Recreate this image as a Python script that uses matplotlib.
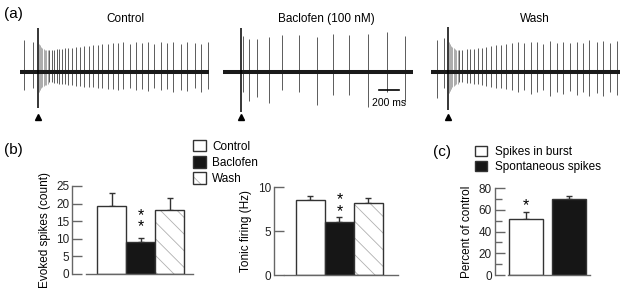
import numpy as np
import matplotlib
matplotlib.use('Agg')
import matplotlib.pyplot as plt
from matplotlib.legend_handler import HandlerTuple

plt.rcParams['font.family'] = ['Liberation Sans', 'DejaVu Sans']
plt.rcParams['hatch.linewidth'] = 0.6

# ---- (a) traces: spike times (ms) and amplitudes (px above / below baseline)
ctrl_spike_t = [43, 133, 293, 317, 340, 367, 393, 417, 450, 483, 523, 560, 603, 643, 690,
                733, 777, 823, 883, 933, 983, 1033, 1100, 1157, 1217, 1283, 1343, 1407,
                1467, 1533, 1607, 1673, 1750, 1807, 1877]
ctrl_spike_up = [32, 30, 22, 22, 22, 23, 23, 23, 24, 24, 24, 25, 25, 26, 26, 27, 27, 28, 28,
                 29, 29, 30, 28, 30, 29, 30, 28, 30, 29, 30, 28, 30, 29, 28, 30]
ctrl_spike_down = [18, 16, 10, 10, 11, 11, 12, 12, 12, 13, 13, 14, 14, 15, 15, 15, 16, 16, 17,
                   17, 18, 17, 16, 18, 17, 19, 16, 18, 17, 20, 18, 19, 16, 20, 17]
ctrl_burst_t = [185, 197, 210, 222, 235, 248, 262, 276]
ctrl_burst_up = [28, 27, 25, 24, 23, 22, 22, 22]
ctrl_burst_down = [20, 18, 16, 15, 14, 13, 13, 12]
ctrl_stim = (177, 44, 36)

bac_spike_t = [203, 263, 337, 457, 593, 757, 937, 1097, 1263, 1447, 1643, 1820]
bac_spike_up = [36, 33, 33, 35, 37, 37, 35, 38, 37, 38, 40, 36]
bac_spike_down = [20, 29, 25, 31, 18, 20, 33, 23, 23, 35, 20, 30]
bac_burst_t, bac_burst_up, bac_burst_down = [], [], []
bac_stim = (177, 44, 40)

wash_spike_t = [63, 130, 280, 310, 360, 390, 430, 470, 510, 550, 600, 650, 700, 750, 810,
                870, 930, 1000, 1060, 1120, 1190, 1260, 1320, 1390, 1460, 1520, 1580, 1660,
                1720, 1790, 1860]
wash_spike_up = [32, 34, 22, 22, 23, 23, 23, 24, 24, 25, 26, 27, 27, 28, 29, 30, 29, 30, 30,
                 28, 31, 29, 30, 29, 30, 29, 32, 30, 31, 29, 31]
wash_spike_down = [26, 16, 10, 10, 11, 11, 12, 12, 13, 14, 15, 16, 16, 17, 18, 20, 18, 22, 20,
                   18, 24, 20, 22, 19, 23, 20, 24, 21, 24, 20, 23]
wash_burst_t = [176, 188, 200, 213, 226, 240, 254, 268]
wash_burst_up = [30, 28, 26, 25, 24, 23, 22, 22]
wash_burst_down = [21, 19, 17, 15, 14, 13, 12, 12]
wash_stim = (167, 45, 38)

trace_titles = ['Control', 'Baclofen (100 nM)', 'Wash']

# ---- (b) bars
conditions = ['Control', 'Baclofen', 'Wash']
evoked_mean = [19.3, 9.2, 18.2]
evoked_err = [3.8, 0.9, 3.5]
tonic_mean = [8.55, 6.08, 8.17]
tonic_err = [0.49, 0.50, 0.57]

# ---- (c) bars
c_labels = ['Spikes in burst', 'Spontaneous spikes']
c_mean = [51.4, 69.8]
c_err = [7.0, 3.1]

W, H = 625, 292
fig = plt.figure(figsize=(W / 100, H / 100), dpi=100)


def box(l, t, r, b):
    return [l / W, 1 - b / H, (r - l) / W, (b - t) / H]


traces = [
    (ctrl_spike_t, ctrl_spike_up, ctrl_spike_down, ctrl_burst_t, ctrl_burst_up, ctrl_burst_down, ctrl_stim),
    (bac_spike_t, bac_spike_up, bac_spike_down, bac_burst_t, bac_burst_up, bac_burst_down, bac_stim),
    (wash_spike_t, wash_spike_up, wash_spike_down, wash_burst_t, wash_burst_up, wash_burst_down, wash_stim),
]
trace_boxes = [(20, 25, 209, 115), (223, 25, 413, 115), (431, 25, 620, 115)]
trace_len = [1890, 1900, 1890]
title_x = [125, 326, 535]

for i, (st, su, sd, bt, bu, bd, stim) in enumerate(traces):
    ax = fig.add_axes(box(*trace_boxes[i]))
    ax.set_xlim(0, trace_len[i])
    ax.set_ylim(-43, 47)
    ax.axis('off')
    ax.vlines(st, -np.array(sd), su, color='#505050', lw=0.65)
    if bt:
        ax.vlines(bt, -np.array(bd), bu, color='#949494', lw=0.55)
    ax.plot([0, trace_len[i]], [0, 0], color='#1a1a1a', lw=2.9, solid_capstyle='butt')
    ax.vlines([stim[0]], -stim[2], stim[1], color='black', lw=1.1)
    ax.plot(stim[0], -45, marker='^', ms=5, color='black', clip_on=False)
    fig.text(title_x[i] / W, 1 - 19 / H, trace_titles[i], ha='center', va='center', fontsize=8.5)
    if i == 1:
        ax.plot([1560, 1760], [-18, -18], color='black', lw=1.2)
        ax.text(1660, -31, '200 ms', ha='center', va='center', fontsize=7.5)

# panel letters
fig.text(13 / W, 1 - 14 / H, '(a)', ha='center', va='center', fontsize=11)
fig.text(13 / W, 1 - 150 / H, '(b)', ha='center', va='center', fontsize=11)
fig.text(442 / W, 1 - 152 / H, '(c)', ha='center', va='center', fontsize=11)

edge = '#333333'
spine_col = '#666666'


def style(ax, outward):
    for s in ['top', 'right']:
        ax.spines[s].set_visible(False)
    ax.spines['left'].set_position(('outward', outward))
    for s in ['left', 'bottom']:
        ax.spines[s].set_color(spine_col)
        ax.spines[s].set_linewidth(1)
    ax.tick_params(axis='y', direction='in', length=7, width=1, color=spine_col,
                   labelsize=8.5, pad=2, labelcolor='#222')
    ax.tick_params(axis='y', which='minor', direction='in', length=5, width=1, color=spine_col)
    ax.set_xticks([])


def bars3(ax, means, errs):
    x = np.arange(3)
    ax.errorbar(x, means, yerr=[np.zeros(3), errs], fmt='none', ecolor=edge,
                elinewidth=1, capsize=2.2, capthick=1, zorder=1)
    b0 = ax.bar(x[0], means[0], width=1, color='white', edgecolor=edge, lw=1, zorder=2)
    b1 = ax.bar(x[1], means[1], width=1, color='#161616', edgecolor=edge, lw=1, zorder=2)
    bh = ax.bar(x[2], means[2], width=1, color='white', edgecolor='#b0b0b0', lw=0,
                hatch='\\\\', zorder=2)
    bo = ax.bar(x[2], means[2], width=1, fill=False, edgecolor=edge, lw=1, zorder=3)
    return [b0[0], b1[0], (bh[0], bo[0])]


# evoked spikes
ax1 = fig.add_axes(box(86, 186, 193, 274))
h = bars3(ax1, evoked_mean, evoked_err)
ax1.set_xlim(-0.88, 2.81)
ax1.set_ylim(0, 25)
ax1.set_yticks([0, 5, 10, 15, 20, 25])
style(ax1, 10)
ax1.set_ylabel('Evoked spikes (count)', fontsize=8.5, labelpad=4)
ax1.text(1, evoked_mean[1] + evoked_err[1] + 5.0, '*\n*', ha='center', va='center',
         fontsize=11.5, linespacing=0.7)

# tonic firing
ax2 = fig.add_axes(box(284, 187.3, 398, 275))
bars3(ax2, tonic_mean, tonic_err)
ax2.set_xlim(-0.91, 3.02)
ax2.set_ylim(0, 10)
ax2.set_yticks([0, 5, 10])
style(ax2, 7.2)
ax2.set_ylabel('Tonic firing (Hz)', fontsize=8.5, labelpad=4)
ax2.text(1, tonic_mean[1] + tonic_err[1] + 1.35, '*\n*', ha='center', va='center',
         fontsize=11.5, linespacing=0.7)

fig.legend(h, conditions, loc='upper left', bbox_to_anchor=(193 / W, 1 - 140 / H),
           frameon=False, fontsize=8.5, handlelength=1.1, handleheight=1.1,
           handletextpad=0.5, labelspacing=0.3, borderpad=0, borderaxespad=0,
           handler_map={tuple: HandlerTuple(ndivide=1)})

# panel c
ax3 = fig.add_axes(box(507.7, 188.3, 590, 275))
xc = np.arange(2)
ax3.errorbar(xc, c_mean, yerr=[np.zeros(2), c_err], fmt='none', ecolor=edge,
             elinewidth=1, capsize=2.2, capthick=1, zorder=1)
hc = ax3.bar(xc, c_mean, width=0.78, color=['white', '#161616'], edgecolor=edge, lw=1, zorder=2)
ax3.set_xlim(-0.42, 1.475)
ax3.set_ylim(0, 80)
ax3.set_yticks([0, 20, 40, 60, 80])
ax3.set_yticks([10, 30, 50, 70], minor=True)
style(ax3, 9.5)
ax3.set_ylabel('Percent of control', fontsize=8.5, labelpad=4)
ax3.text(0, c_mean[0] + c_err[0] + 6, '*', ha='center', va='center', fontsize=11.5)

fig.legend(list(hc), c_labels, loc='upper left', bbox_to_anchor=(475 / W, 1 - 145.5 / H),
           frameon=False, fontsize=8.5, handlelength=1.0, handleheight=1.0,
           handletextpad=0.7, labelspacing=0.25, borderpad=0, borderaxespad=0)

fig.savefig('out.png', dpi=100)
